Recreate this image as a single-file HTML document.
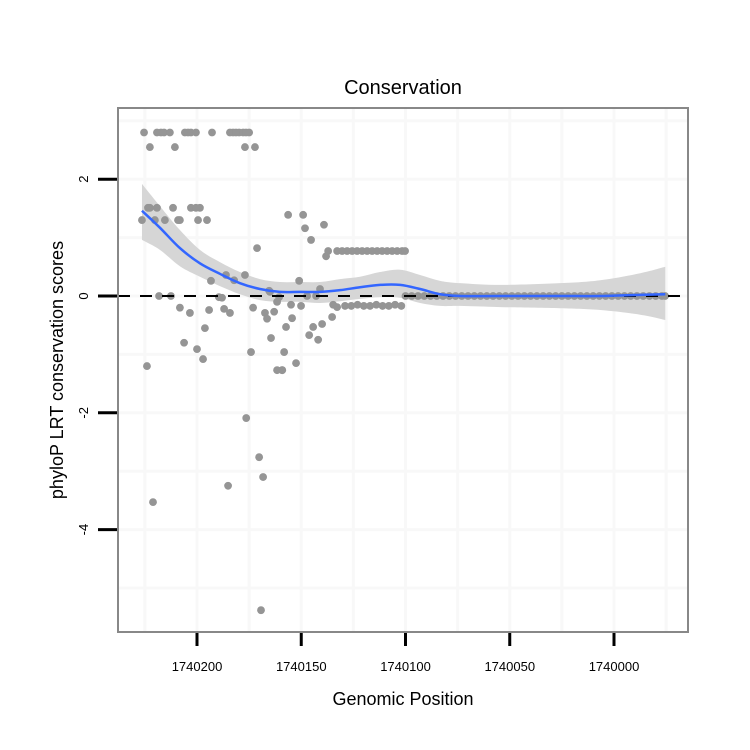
<!DOCTYPE html>
<html><head><meta charset="utf-8"><style>
body{margin:0;background:#fff;}
svg{display:block;font-family:"Liberation Sans",sans-serif;}
</style></head><body>
<svg id="chart" width="750" height="750">
<text x="403" y="94" font-size="20" text-anchor="middle">Conservation</text>
<g id="grid"></g>
<g id="band"></g>
<g id="pts"></g>
<line x1="118" y1="296" x2="688" y2="296" stroke="#000" stroke-width="2" stroke-dasharray="12,10"/>
<g id="fit"></g>
<rect x="118" y="108" width="570" height="524" fill="none" stroke="#888" stroke-width="2"/>
<g id="axes"></g>
<text x="403" y="705" font-size="18" text-anchor="middle">Genomic Position</text>
<text transform="translate(63,370) rotate(-90)" font-size="18" text-anchor="middle">phyloP LRT conservation scores</text>
</svg>
<script>
const xTicks=[1740200,1740150,1740100,1740050,1740000];
const xTickLabels=["1740200","1740150","1740100","1740050","1740000"];
const yTicks=[2,0,-2,-4];
const yTickLabels=["2","0","-2","-4"];
const ptPos=[1740225.4,1740219.2,1740217.3,1740215.8,1740213,1740205.8,1740204.3,1740202.9,1740200.5,1740192.8,1740184.2,1740182.7,1740181.3,1740179.8,1740177.9,1740176.5,1740175,
1740222.6,1740210.6,1740177,1740172.2,
1740223.5,1740222.6,1740219.2,1740211.5,1740202.9,1740200.5,1740198.6,
1740226.4,1740220.2,1740215.4,1740209.1,1740208.2,1740199.5,1740195.2,
1740171.2,1740186.1,1740182.2,1740177,1740193.3,1740218.2,1740212.5,1740189.5,1740188,1740208.2,1740203.4,1740194.2,1740187,1740184.2,1740196.2,1740206.2,1740200,1740197.1,1740224,1740173.1,1740174.1,1740165,1740164.5,
1740159.1,1740176.4,1740170.2,1740168.3,1740185.1,1740221.1,1740169.3,1740167.4,1740166.4,1740163,
1740156.3,1740149.1,1740148.2,1740139.1,1740145.3,1740137.1,1740138.1,
1740132.8,1740130.4,1740128,1740125.6,1740123.2,1740120.8,1740118.4,1740116,1740113.6,1740111.2,1740108.8,1740106.4,1740104,1740101.6,1740100.2,
1740151,1740165.4,1740141,1740160.6,1740147.2,1740142.9,1740161.6,1740154.9,1740150.1,1740134.7,1740132.8,1740154.4,1740157.3,1740144.3,1740140,1740135.2,1740146.2,1740141.9,1740158.2,1740152.5,1740161.6,1740159.2,
1740129,1740126,1740123,1740120,1740117,1740114,1740111,1740108,1740105,1740102,
1740100,1740097,1740094,1740091,1740088,1740085,1740082,1740079,1740076,1740073,1740070,1740067,1740064,1740061,1740058,1740055,1740052,1740049,1740046,1740043,1740040,1740037,1740034,1740031,1740028,1740025,1740022,1740019,1740016,1740013,1740010,1740007,1740004,1740001,1739998,1739995,1739992,1739989,1739986,1739983,1739980,1739977,1739975.5];
const ptVal=[2.8,2.8,2.8,2.8,2.8,2.8,2.8,2.8,2.8,2.8,2.8,2.8,2.8,2.8,2.8,2.8,2.8,
2.55,2.55,2.55,2.55,
1.51,1.51,1.51,1.51,1.51,1.51,1.51,
1.3,1.3,1.3,1.3,1.3,1.3,1.3,
0.82,0.36,0.27,0.36,0.26,0,0,-0.02,-0.03,-0.2,-0.29,-0.24,-0.22,-0.29,-0.55,-0.8,-0.91,-1.08,-1.2,-0.2,-0.96,0.07,-0.72,
-1.27,-2.09,-2.76,-3.1,-3.25,-3.53,-5.38,-0.29,-0.39,-0.27,
1.39,1.39,1.16,1.22,0.96,0.77,0.68,
0.77,0.77,0.77,0.77,0.77,0.77,0.77,0.77,0.77,0.77,0.77,0.77,0.77,0.77,0.77,
0.26,0.09,0.12,-0.02,0,0,-0.1,-0.15,-0.17,-0.15,-0.19,-0.38,-0.53,-0.53,-0.48,-0.36,-0.67,-0.75,-0.96,-1.15,-1.27,-1.27,
-0.17,-0.17,-0.15,-0.17,-0.17,-0.15,-0.17,-0.17,-0.15,-0.17,
0,0,0,0,0,0,0,0,0,0,0,0,0,0,0,0,0,0,0,0,0,0,0,0,0,0,0,0,0,0,0,0,0,0,0,0,0,0,0,0,0,0,0,0,0,0,0,0,0,0,0,0,0];
const fitPos=[1740226.4,1740217.8,1740208.2,1740198.6,1740189,1740179.4,1740169.8,1740160.2,1740150.6,1740141,1740131.4,1740121.8,1740112.2,1740102.6,1740093,1740083.4,1740073.8,1740054.6,1740025.8,1740006.6,1739987.4,1739975.4];
const fitVal=[1.46,1.17,0.82,0.56,0.38,0.22,0.12,0.07,0.07,0.07,0.10,0.15,0.19,0.19,0.12,0.03,0,0,0,0,0.02,0.03];
const fitLo=[0.96,0.79,0.51,0.33,0.17,0.03,-0.07,-0.10,-0.10,-0.12,-0.09,-0.05,-0.02,-0.03,-0.12,-0.17,-0.17,-0.19,-0.21,-0.24,-0.32,-0.41];
const fitHi=[1.92,1.54,1.13,0.79,0.58,0.41,0.29,0.24,0.24,0.24,0.29,0.33,0.41,0.45,0.36,0.26,0.22,0.19,0.22,0.27,0.39,0.50];

const NS="http://www.w3.org/2000/svg";
function X(p){return 197+(1740200-p)*104.25/50;}
function Y(v){return 296-v*58.4;}
function mk(tag,attrs,parent){const e=document.createElementNS(NS,tag);for(const k in attrs)e.setAttribute(k,attrs[k]);parent.appendChild(e);return e;}
function smooth(P,start){
  let d=start?'M'+P[0][0]+','+P[0][1]:'L'+P[0][0]+','+P[0][1];
  for(let i=0;i<P.length-1;i++){
    const p0=P[Math.max(0,i-1)],p1=P[i],p2=P[i+1],p3=P[Math.min(P.length-1,i+2)];
    const c1x=p1[0]+(p2[0]-p0[0])/6,c1y=p1[1]+(p2[1]-p0[1])/6;
    const c2x=p2[0]-(p3[0]-p1[0])/6,c2y=p2[1]-(p3[1]-p1[1])/6;
    d+='C'+c1x+','+c1y+' '+c2x+','+c2y+' '+p2[0]+','+p2[1];
  }
  return d;
}
const grid=document.getElementById('grid');
[1740225,1740200,1740175,1740150,1740125,1740100,1740075,1740050,1740025,1740000,1739975].forEach(p=>{
  const l=mk('line',{x1:X(p),x2:X(p),y1:109,y2:631,stroke:'#f8f8f8','stroke-width':3},grid);
  
  
});
[3,2,1,0,-1,-2,-3,-4,-5].forEach(v=>{
  const l=mk('line',{x1:119,x2:687,y1:Y(v),y2:Y(v),stroke:'#f8f8f8','stroke-width':3},grid);
  
  
});
const hi=fitPos.map((p,i)=>[X(p),Y(fitHi[i])]);
const lo=fitPos.map((p,i)=>[X(p),Y(fitLo[i])]).reverse();
const band=mk('path',{d:smooth(hi,true)+smooth(lo,false)+'Z',fill:'#d6d6d6'},document.getElementById('band'));


const pts=document.getElementById('pts');
ptPos.forEach((p,i)=>{
  const c=mk('circle',{cx:X(p),cy:Y(ptVal[i]),r:3.9,fill:'#959595'},pts);
  
  
});
const fp=fitPos.map((p,i)=>[X(p),Y(fitVal[i])]);
const fl=mk('path',{d:smooth(fp,true),fill:'none',stroke:'#3366ff','stroke-width':2.5},document.getElementById('fit'));


const axes=document.getElementById('axes');
xTicks.forEach((p,i)=>{
  const t=mk('line',{x1:X(p),x2:X(p),y1:633,y2:646,stroke:'#000','stroke-width':3},axes);
  
  
  const tx=mk('text',{x:X(p),y:671,'font-size':13,'text-anchor':'middle'},axes);
  tx.textContent=xTickLabels[i];
  
  
});
yTicks.forEach((v,i)=>{
  const t=mk('line',{x1:98,x2:117,y1:Y(v),y2:Y(v),stroke:'#000','stroke-width':3},axes);
  
  
  const tx=mk('text',{transform:'translate(88,'+Y(v)+') rotate(-90)','font-size':13,'text-anchor':'middle'},axes);
  tx.textContent=yTickLabels[i];
  
  
});
</script>
</body></html>
